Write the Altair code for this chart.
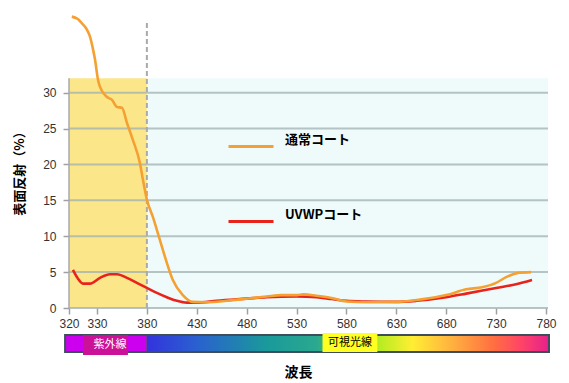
import altair as alt
import pandas as pd

# ---- data ----
wl_std = [321, 323, 325, 326.4, 327.5, 328.6, 329.3, 331, 333, 340, 345, 350, 355, 360, 366,
          373, 376, 380, 386, 393, 400, 406, 416, 426, 440, 460, 480, 500, 515, 530, 537,
          550, 565, 580, 600, 630, 655, 680, 700, 716, 730, 740, 753, 765]
val_std = [40.6, 40.3, 39.5, 38.8, 37.8, 36.0, 34.6, 31.8, 30.8, 29.4, 29.0, 28.0, 27.9, 25.8, 23.4,
           20.2, 17.9, 15.1, 12.7, 9.5, 6.3, 3.9, 1.8, 0.85, 0.8, 1.0, 1.3, 1.6, 1.8, 1.8, 1.9,
           1.7, 1.4, 0.9, 0.8, 0.85, 1.2, 1.8, 2.6, 2.9, 3.5, 4.3, 4.9, 5.0]

wl_uv = [321.4, 323, 325, 327.5, 333, 343, 350, 360, 370, 380, 390, 400, 410, 420, 430, 450,
         480, 500, 530, 550, 565, 580, 600, 630, 650, 680, 700, 730, 750, 766]
val_uv = [5.3, 4.2, 3.4, 3.4, 4.2, 4.7, 4.7, 4.2, 3.5, 2.8, 2.1, 1.5, 1.0, 0.75, 0.75, 1.0,
          1.3, 1.5, 1.6, 1.5, 1.25, 1.0, 0.9, 0.85, 1.0, 1.5, 2.0, 2.8, 3.3, 3.9]

series_names = ["通常コート", "UVWPコート"]
series_colors = ["#f5a032", "#e8231c"]

x_ticks = [320, 330, 380, 430, 480, 530, 580, 630, 680, 730, 780]
y_ticks = [0, 5, 10, 15, 20, 25, 30]

band_names = ["uv", "vis"]
band_start = [320, 380]
band_end = [380, 782]
band_colors = ["#fce68a", "#effbfb"]
band_top = 32
dash_top = 40.1
grid_end = 782

spec_start = 318.6
spec_split = 380
spec_end = 783
spec_labels = ["紫外線", "可視光線"]
spec_label_from = [325, 556]
spec_label_to = [361, 611]

JP = "Noto Sans CJK JP"
LAT = "Liberation Sans"

# ---- scales / axes ----
xscale = alt.Scale(domain=[320, 330, 780], range=[0, 28, 477], nice=False, zero=False)
yscale = alt.Scale(domain=[0, 41.8], nice=False, zero=False)

xaxis = alt.Axis(values=x_ticks, tickSize=6, tickColor="#a0a0a0", tickWidth=1.5,
                 domain=False, grid=False, labelFontSize=12, labelColor="#333333",
                 labelFont=LAT, labelPadding=4, labelFlush=False, labelOverlap=False,
                 title="波長", titleFont=JP, titleFontSize=14, titleFontWeight="bold",
                 titleColor="#000000", titleX=229, titleY=64, titleBaseline="middle",
                 titleAlign="center", titleAnchor="middle")
yaxis = alt.Axis(values=y_ticks, tickSize=6, tickColor="#a0a0a0", tickWidth=1.5,
                 domain=False, grid=False, labelFontSize=12, labelColor="#333333",
                 labelFont=LAT, labelPadding=7,
                 title="表面反射（%）", titleFont=JP, titleFontSize=13, titleFontWeight="bold",
                 titleColor="#000000", titleX=-50, titleY=162, titleBaseline="middle",
                 titleAlign="center", titleAngle=270)


def X(field=None, datum=None):
    if datum is not None:
        return alt.X(datum=datum, type="quantitative", scale=xscale, axis=xaxis)
    return alt.X(field, type="quantitative", scale=xscale, axis=xaxis)


def Y(field=None, datum=None):
    if datum is not None:
        return alt.Y(datum=datum, type="quantitative", scale=yscale, axis=yaxis)
    return alt.Y(field, type="quantitative", scale=yscale, axis=yaxis)


one = pd.DataFrame({"k": [0]})

bands = pd.DataFrame({"band": band_names, "x0": band_start, "x1": band_end})
bg = alt.Chart(bands).mark_rect().encode(
    x=X("x0"), x2="x1", y=Y(datum=0), y2=alt.Y2(datum=band_top),
    fill=alt.Fill("band:N", scale=alt.Scale(domain=band_names, range=band_colors), legend=None),
)

grid = alt.Chart(pd.DataFrame({"y": y_ticks})).mark_rule(
    color="#a0b0b0", opacity=0.75, strokeWidth=2
).encode(x=X(datum=320), x2=alt.X2(datum=grid_end), y=Y("y"))

left_edge = alt.Chart(one).mark_rule(color="#a8a8a8", strokeWidth=1.5).encode(
    x=X(datum=320), y=Y(datum=0), y2=alt.Y2(datum=band_top))

dash = alt.Chart(one).mark_rule(color="#aaaaaa", strokeWidth=2, strokeDash=[5, 3]).encode(
    x=X(datum=spec_split), y=Y(datum=0), y2=alt.Y2(datum=dash_top))

stroke_scale = alt.Scale(domain=series_names, range=series_colors)
legend = alt.Legend(orient="none", legendX=158, legendY=114.5, title=None,
                    symbolType="stroke", symbolSize=2025, symbolStrokeWidth=3,
                    labelFont=JP, labelFontSize=13, labelFontWeight="bold",
                    labelColor="#000000", labelOffset=10, labelBaseline="bottom",
                    rowPadding=45, padding=0, direction="vertical", labelLimit=300)

df_std = pd.DataFrame({"wl": wl_std, "v": val_std, "series": series_names[0]})
df_uv = pd.DataFrame({"wl": wl_uv, "v": val_uv, "series": series_names[1]})

line_uv = alt.Chart(df_uv).mark_line(interpolate="monotone", strokeWidth=2.6, clip=False).encode(
    x=X("wl"), y=Y("v"), stroke=alt.Stroke("series:N", scale=stroke_scale, legend=legend))
line_std = alt.Chart(df_std).mark_line(interpolate="monotone", strokeWidth=2.6, clip=False).encode(
    x=X("wl"), y=Y("v"), stroke=alt.Stroke("series:N", scale=stroke_scale, legend=legend))

# spectrum bar under the axis
spec_uv = alt.Chart(one).mark_rect(fill="#cc00ee").encode(
    x=X(datum=spec_start), x2=alt.X2(datum=spec_split), y=alt.value(327), y2=alt.value(344))
grad = alt.Gradient(gradient="linear", x1=0, x2=1, y1=0, y2=0, stops=[
    alt.GradientStop(offset=0.0, color="#3333dd"),
    alt.GradientStop(offset=0.12, color="#2a5fd0"),
    alt.GradientStop(offset=0.3, color="#1a9a9a"),
    alt.GradientStop(offset=0.42, color="#2aa890"),
    alt.GradientStop(offset=0.5, color="#55c84a"),
    alt.GradientStop(offset=0.58, color="#b8ec22"),
    alt.GradientStop(offset=0.66, color="#ffee33"),
    alt.GradientStop(offset=0.76, color="#ffb040"),
    alt.GradientStop(offset=0.86, color="#ff7040"),
    alt.GradientStop(offset=0.93, color="#ff4466"),
    alt.GradientStop(offset=1.0, color="#e6208c"),
])
spec_vis = alt.Chart(one).mark_rect(fill=grad).encode(
    x=X(datum=spec_split), x2=alt.X2(datum=spec_end), y=alt.value(327), y2=alt.value(344))
spec_border = alt.Chart(one).mark_rect(fill=None, fillOpacity=0, stroke="#3d4d5c", strokeWidth=2).encode(
    x=X(datum=spec_start), x2=alt.X2(datum=spec_end), y=alt.value(327), y2=alt.value(344))
spec_mid = alt.Chart(one).mark_rule(color="#3d4d5c", strokeWidth=1.5, opacity=0.6).encode(
    x=X(datum=spec_split), y=alt.value(327), y2=alt.value(344))

uv_box = alt.Chart(one).mark_rect(fill="#cc1199").encode(
    x=X(datum=spec_label_from[0]), x2=alt.X2(datum=spec_label_to[0]),
    y=alt.value(327), y2=alt.value(347))
uv_text = alt.Chart(one).mark_text(text=spec_labels[0], font=JP, fontSize=11, color="#ffffff",
                                    align="center", baseline="middle").encode(
    x=X(datum=(spec_label_from[0] + spec_label_to[0]) / 2), y=alt.value(337))
vis_box = alt.Chart(one).mark_rect(fill="#ffff22").encode(
    x=X(datum=spec_label_from[1]), x2=alt.X2(datum=spec_label_to[1]),
    y=alt.value(325), y2=alt.value(344))
vis_text = alt.Chart(one).mark_text(text=spec_labels[1], font=JP, fontSize=11, color="#000000",
                                     align="center", baseline="middle").encode(
    x=X(datum=(spec_label_from[1] + spec_label_to[1]) / 2), y=alt.value(335))

chart = alt.layer(
    bg, grid, left_edge, dash, line_uv, line_std,
    spec_uv, spec_vis, spec_mid, spec_border, uv_box, uv_text, vis_box, vis_text,
).properties(
    width=477, height=300,
    autosize=alt.AutoSizeParams(type="none"),
    padding={"left": 61, "top": 0, "right": 15, "bottom": 72},
    background="#ffffff",
).configure_view(stroke=None)

chart.save("out.html", embed_options={"renderer": "svg", "actions": False})
